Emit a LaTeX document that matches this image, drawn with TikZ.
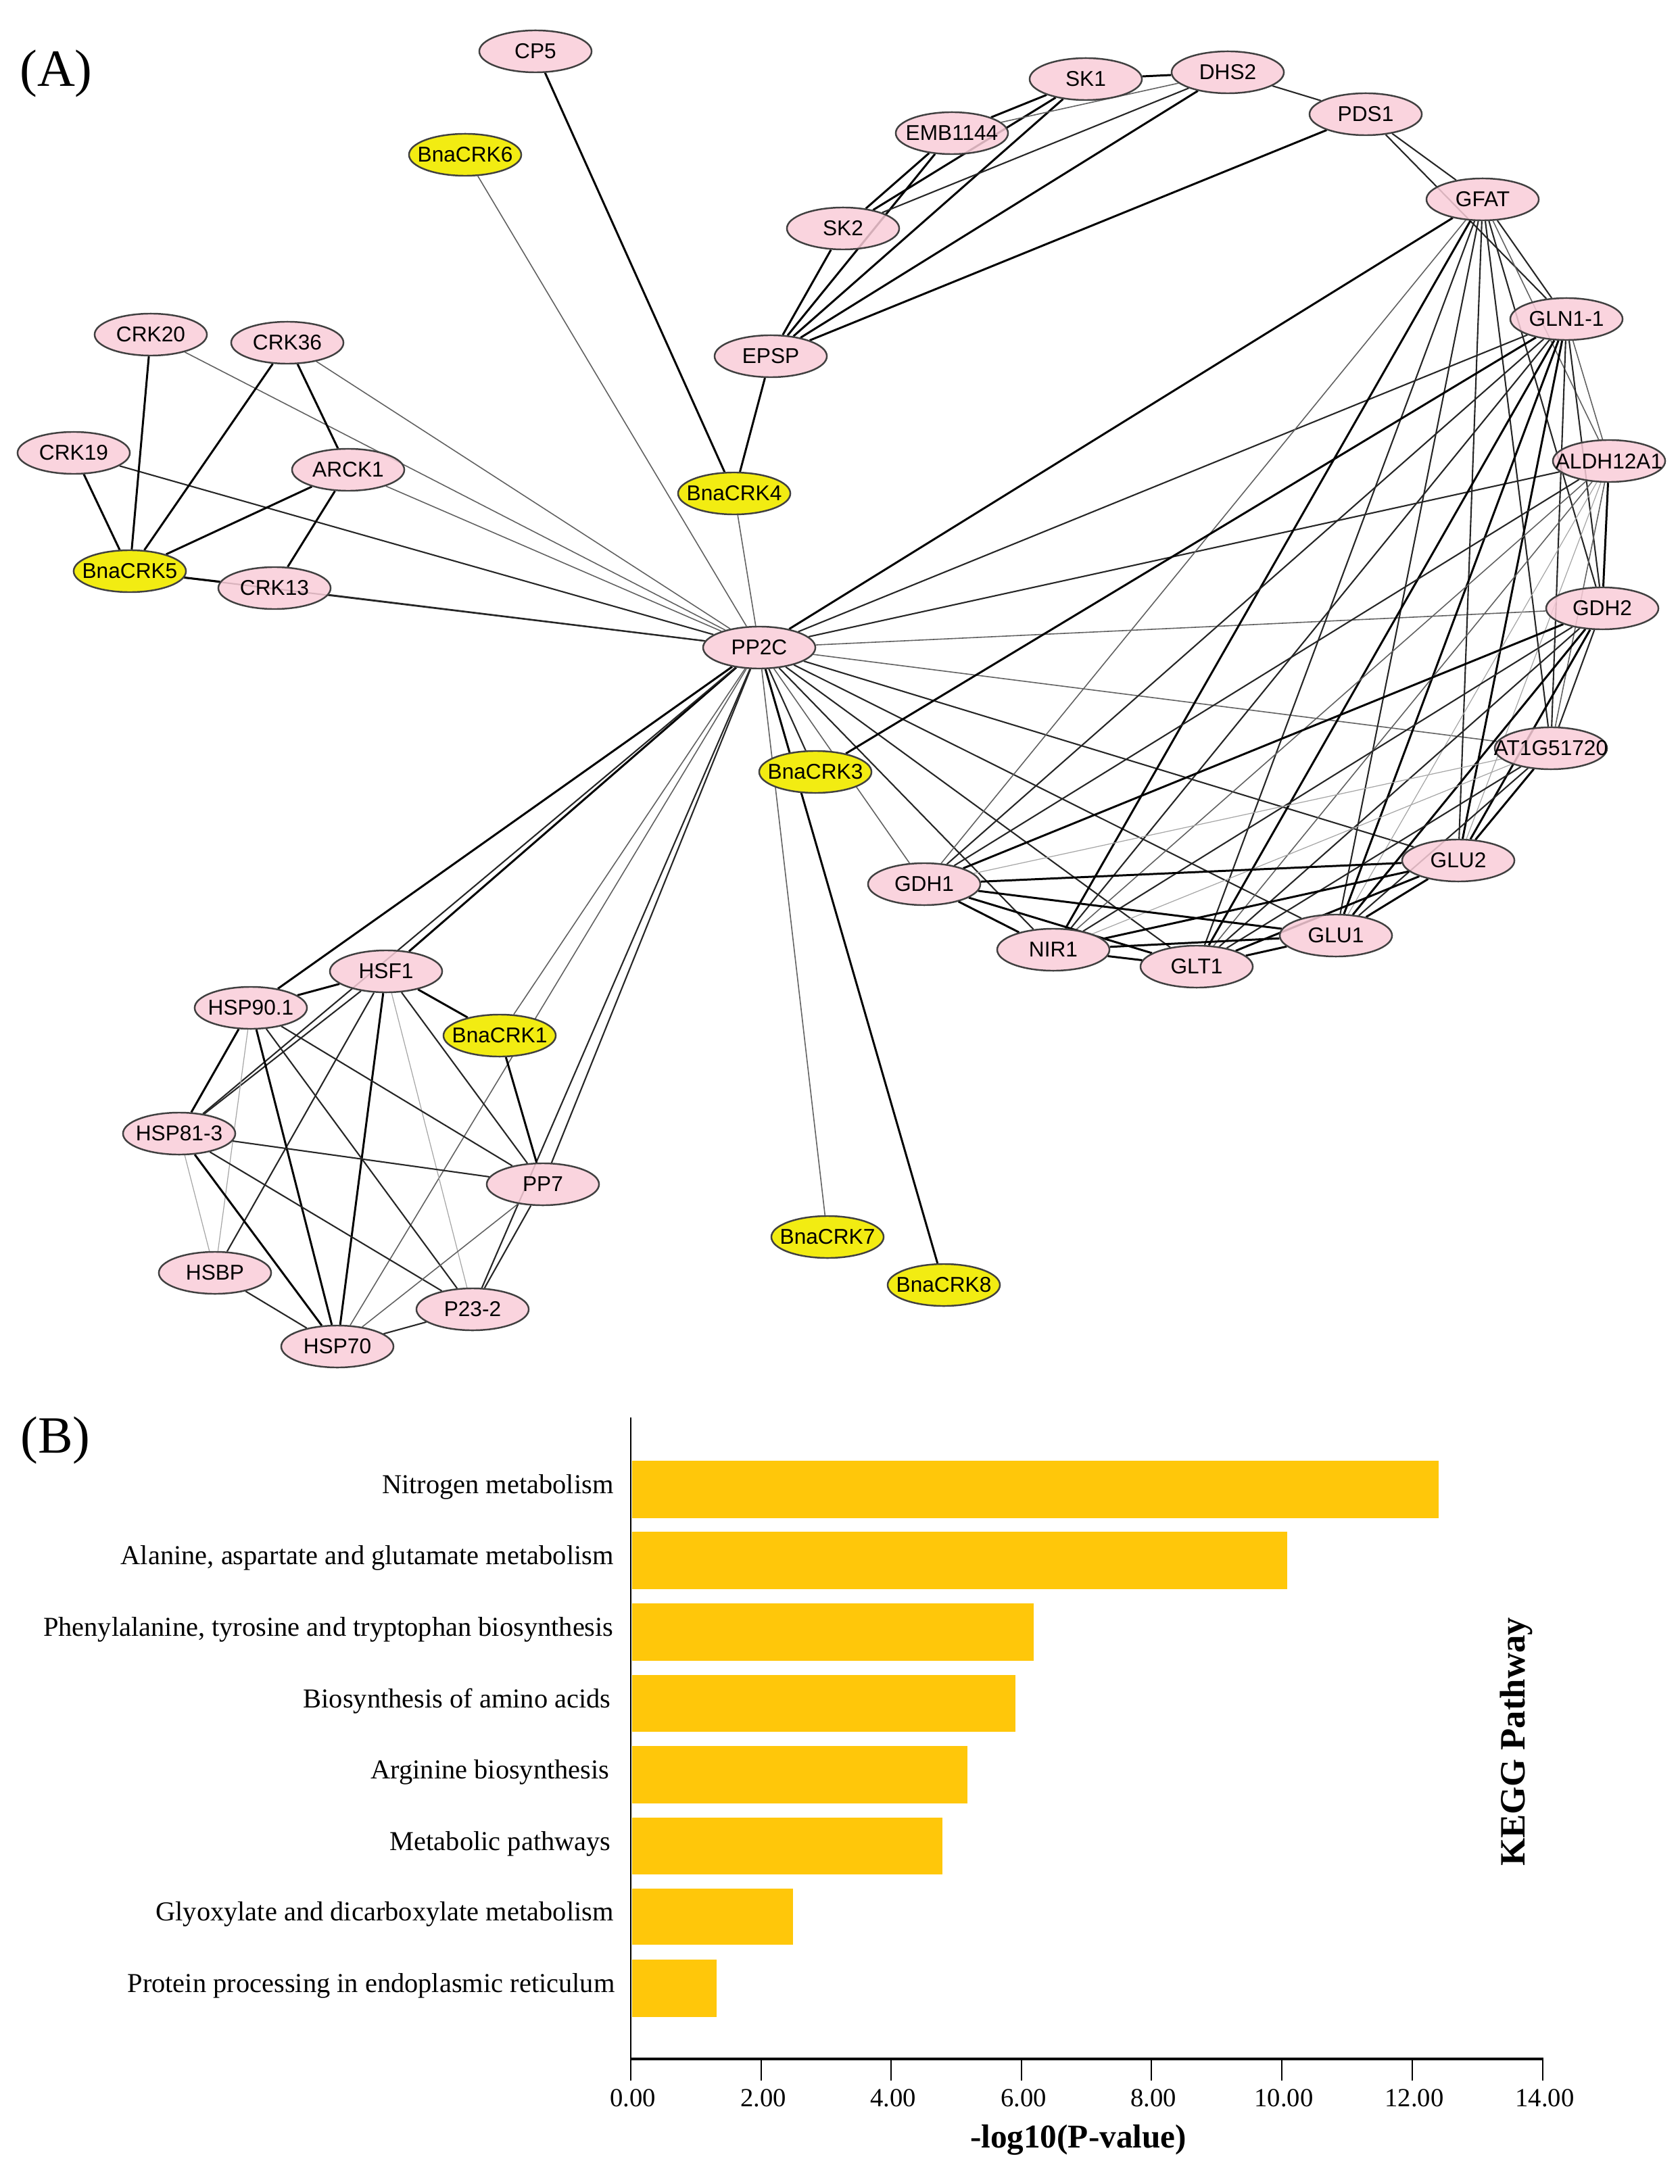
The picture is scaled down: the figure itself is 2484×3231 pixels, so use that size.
\documentclass[tikz,border=0pt]{standalone}
\usepackage{fontspec}
\setmainfont{Liberation Serif}
\newfontfamily\genefont{Liberation Sans}
\usetikzlibrary{shapes.geometric, backgrounds}
\definecolor{genePink}{RGB}{249, 204, 216}
\definecolor{crkYellow}{RGB}{242, 236, 18}
\definecolor{barGold}{RGB}{255, 199, 10}
\newcommand{\gname}[1]{\makebox[0pt]{#1}}

\begin{document}
\begin{tikzpicture}
    [
        x=0.01cm, y=-0.01cm,
        gene/.style={
            ellipse, draw=black!75, line width=0.7pt,
            fill=genePink, fill opacity=0.85, text opacity=1,
            minimum width=1.66cm, minimum height=0.62cm, inner sep=0pt,
            font=\genefont\fontsize{9}{10}\selectfont
        },
        crk/.style={gene, fill=crkYellow, fill opacity=1},
        faint/.style={draw=black!35, line width=0.35pt},
        weak/.style={draw=black!62, line width=0.45pt},
        mid/.style={draw=black!85, line width=0.6pt},
        strong/.style={draw=black, line width=0.85pt},
        pathway/.style={anchor=east, font=\fontsize{11.5}{13}\selectfont},
        ticklabel/.style={font=\fontsize{11}{13}\selectfont}
    ]
\useasboundingbox (0,0) rectangle (2484,3231);

% Panel labels
\node (panelA) [font=\fontsize{22}{26}\selectfont] at (83,109) {(A)};
\node (panelB) [font=\fontsize{22}{26}\selectfont] at (82,2131) {(B)};

% Nodes
\node (cp5) [gene] at (792,76) {\gname{CP5}};
\node (bnacrk6) [crk] at (688,229) {\gname{BnaCRK6}};
\node (sk1) [gene] at (1606,117) {\gname{SK1}};
\node (dhs2) [gene] at (1816,107) {\gname{DHS2}};
\node (pds1) [gene] at (2020,169) {\gname{PDS1}};
\node (emb1144) [gene] at (1408,197) {\gname{EMB1144}};
\node (gfat) [gene] at (2193,295) {\gname{GFAT}};
\node (sk2) [gene] at (1247,338) {\gname{SK2}};
\node (gln11) [gene] at (2317,472) {\gname{GLN1-1}};
\node (epsp) [gene] at (1140,527) {\gname{EPSP}};
\node (crk20) [gene] at (223,495) {\gname{CRK20}};
\node (crk36) [gene] at (425,507) {\gname{CRK36}};
\node (crk19) [gene] at (109,670) {\gname{CRK19}};
\node (arck1) [gene] at (515,695) {\gname{ARCK1}};
\node (bnacrk4) [crk] at (1086,730) {\gname{BnaCRK4}};
\node (aldh) [gene] at (2380,682) {\gname{ALDH12A1}};
\node (bnacrk5) [crk] at (192,845) {\gname{BnaCRK5}};
\node (crk13) [gene] at (406,870) {\gname{CRK13}};
\node (gdh2) [gene] at (2370,900) {\gname{GDH2}};
\node (pp2c) [gene] at (1123,958) {\gname{PP2C}};
\node (bnacrk3) [crk] at (1206,1142) {\gname{BnaCRK3}};
\node (at1g) [gene] at (2294,1107) {\gname{AT1G51720}};
\node (glu2) [gene] at (2157,1273) {\gname{GLU2}};
\node (gdh1) [gene] at (1367,1308) {\gname{GDH1}};
\node (glu1) [gene] at (1976,1384) {\gname{GLU1}};
\node (nir1) [gene] at (1558,1405) {\gname{NIR1}};
\node (glt1) [gene] at (1770,1430) {\gname{GLT1}};
\node (hsf1) [gene] at (571,1437) {\gname{HSF1}};
\node (hsp901) [gene] at (371,1491) {\gname{HSP90.1}};
\node (bnacrk1) [crk] at (739,1532) {\gname{BnaCRK1}};
\node (hsp813) [gene] at (265,1677) {\gname{HSP81-3}};
\node (pp7) [gene] at (803,1752) {\gname{PP7}};
\node (bnacrk7) [crk] at (1224,1830) {\gname{BnaCRK7}};
\node (bnacrk8) [crk] at (1396,1901) {\gname{BnaCRK8}};
\node (hsbp) [gene] at (318,1883) {\gname{HSBP}};
\node (p232) [gene] at (699,1937) {\gname{P23-2}};
\node (hsp70) [gene] at (499,1992) {\gname{HSP70}};

\begin{scope}[on background layer]
% PP2C hub
\path (pp2c)
    edge[mid] (crk13) edge[mid] (bnacrk5) edge[mid] (crk19)
    edge[weak] (arck1) edge[weak] (crk20) edge[weak] (crk36)
    edge[weak] (bnacrk6) edge[weak] (bnacrk4)
    edge[strong] (gfat) edge[mid] (gln11) edge[mid] (aldh) edge[weak] (gdh2)
    edge[weak] (at1g) edge[mid] (glu2) edge[mid] (glu1) edge[mid] (glt1)
    edge[mid] (nir1) edge[weak] (gdh1) edge[mid] (bnacrk3)
    edge[weak] (bnacrk7) edge[strong] (bnacrk8)
    edge[strong] (hsp901) edge[strong] (hsf1) edge[mid] (hsp813)
    edge[weak] (bnacrk1) edge[weak] (hsp70) edge[mid] (pp7) edge[mid] (p232);

% CRK group
\path (bnacrk5) edge[strong] (crk20) edge[strong] (crk36) edge[strong] (crk19)
    edge[strong] (arck1) edge[strong] (crk13);
\path (arck1) edge[strong] (crk36) edge[strong] (crk13);
\path (bnacrk4) edge[strong] (cp5) edge[strong] (epsp);

% shikimate group
\path (epsp) edge[strong] (sk2) edge[strong] (emb1144) edge[strong] (sk1)
    edge[strong] (dhs2) edge[strong] (pds1);
\path (sk1) edge[strong] (dhs2) edge[strong] (emb1144) edge[strong] (sk2);
\path (dhs2) edge[mid] (pds1) edge[weak] (emb1144) edge[mid] (sk2);
\path (emb1144) edge[strong] (sk2);
\path (pds1) edge[mid] (gfat) edge[mid] (gln11);

% nitrogen group
\path (gfat) edge[mid] (gln11) edge[weak] (aldh) edge[mid] (gdh2) edge[mid] (at1g)
    edge[mid] (glu2) edge[mid] (glu1) edge[mid] (glt1) edge[strong] (nir1) edge[weak] (gdh1);
\path (gln11) edge[weak] (aldh) edge[mid] (gdh2) edge[mid] (at1g) edge[strong] (glu2)
    edge[strong] (glu1) edge[strong] (glt1) edge[mid] (nir1) edge[mid] (gdh1)
    edge[strong] (bnacrk3);
\path (aldh) edge[strong] (gdh2) edge[weak] (at1g) edge[faint] (glu2) edge[faint] (glu1)
    edge[weak] (glt1) edge[weak] (nir1) edge[mid] (gdh1);
\path (gdh2) edge[mid] (at1g) edge[strong] (glu2) edge[strong] (glu1) edge[mid] (glt1)
    edge[mid] (nir1) edge[strong] (gdh1);
\path (at1g) edge[strong] (glu2) edge[mid] (glu1) edge[mid] (glt1) edge[faint] (nir1)
    edge[faint] (gdh1);
\path (glu2) edge[strong] (glu1) edge[strong] (glt1) edge[strong] (nir1) edge[strong] (gdh1);
\path (glu1) edge[strong] (glt1) edge[strong] (nir1) edge[strong] (gdh1);
\path (glt1) edge[strong] (nir1) edge[strong] (gdh1);
\path (nir1) edge[strong] (gdh1);

% heat shock group
\path (hsf1) edge[strong] (hsp901) edge[strong] (bnacrk1) edge[mid] (pp7) edge[strong] (hsp70)
    edge[mid] (hsbp) edge[mid] (hsp813) edge[faint] (p232);
\path (hsp901) edge[strong] (hsp813) edge[faint] (hsbp) edge[strong] (hsp70)
    edge[mid] (p232) edge[mid] (pp7);
\path (hsp813) edge[mid] (pp7) edge[strong] (hsp70) edge[mid] (p232) edge[faint] (hsbp);
\path (hsp70) edge[mid] (hsbp) edge[mid] (p232) edge[weak] (pp7);
\path (pp7) edge[strong] (bnacrk1) edge[mid] (p232);
\end{scope}

% Panel B: KEGG bars
\fill[barGold] (935,2161) rectangle (2128,2246);
\fill[barGold] (935,2266) rectangle (1904,2351);
\fill[barGold] (935,2372) rectangle (1529,2457);
\fill[barGold] (935,2478) rectangle (1502,2562);
\fill[barGold] (935,2583) rectangle (1431,2668);
\fill[barGold] (935,2689) rectangle (1394,2773);
\fill[barGold] (935,2794) rectangle (1173,2877);
\fill[barGold] (935,2899) rectangle (1060,2984);

\node (nitro) [pathway] at (920,2200) {Nitrogen metabolism};
\node (alanine) [pathway] at (920,2305) {Alanine, aspartate and glutamate metabolism};
\node (phenyl) [pathway] at (920,2411) {Phenylalanine, tyrosine and tryptophan biosynthesis};
\node (aminoacids) [pathway] at (916,2517) {Biosynthesis of amino acids};
\node (arginine) [pathway] at (914,2622) {Arginine biosynthesis};
\node (metabolic) [pathway] at (916,2728) {Metabolic pathways};
\node (glyox) [pathway] at (920,2832) {Glyoxylate and dicarboxylate metabolism};
\node (protein) [pathway] at (922,2938) {Protein processing in endoplasmic reticulum};

% axes
\draw[line width=0.6pt] (933,2097) -- (933,3046);
\draw[line width=1.3pt] (933,3046) -- (2283,3046);
\draw[line width=0.5pt]
    (933,3046) -- (933,3078) (1126,3046) -- (1126,3078)
    (1318,3046) -- (1318,3078) (1511,3046) -- (1511,3078)
    (1703,3046) -- (1703,3078) (1896,3046) -- (1896,3078)
    (2089,3046) -- (2089,3078) (2282,3046) -- (2282,3078);

\node (t0) [ticklabel] at (936,3104) {0.00};
\node (t2) [ticklabel] at (1129,3104) {2.00};
\node (t4) [ticklabel] at (1321,3104) {4.00};
\node (t6) [ticklabel] at (1514,3104) {6.00};
\node (t8) [ticklabel] at (1706,3104) {8.00};
\node (t10) [ticklabel] at (1899,3104) {10.00};
\node (t12) [ticklabel] at (2092,3104) {12.00};
\node (t14) [ticklabel] at (2285,3104) {14.00};

\node (xtitle) [font=\bfseries\fontsize{14}{16}\selectfont] at (1595,3166) {-log10(P-value)};
\node (ytitle) [rotate=90, font=\bfseries\fontsize{15}{18}\selectfont] at (2243,2577) {KEGG Pathway};

\end{tikzpicture}
\end{document}
